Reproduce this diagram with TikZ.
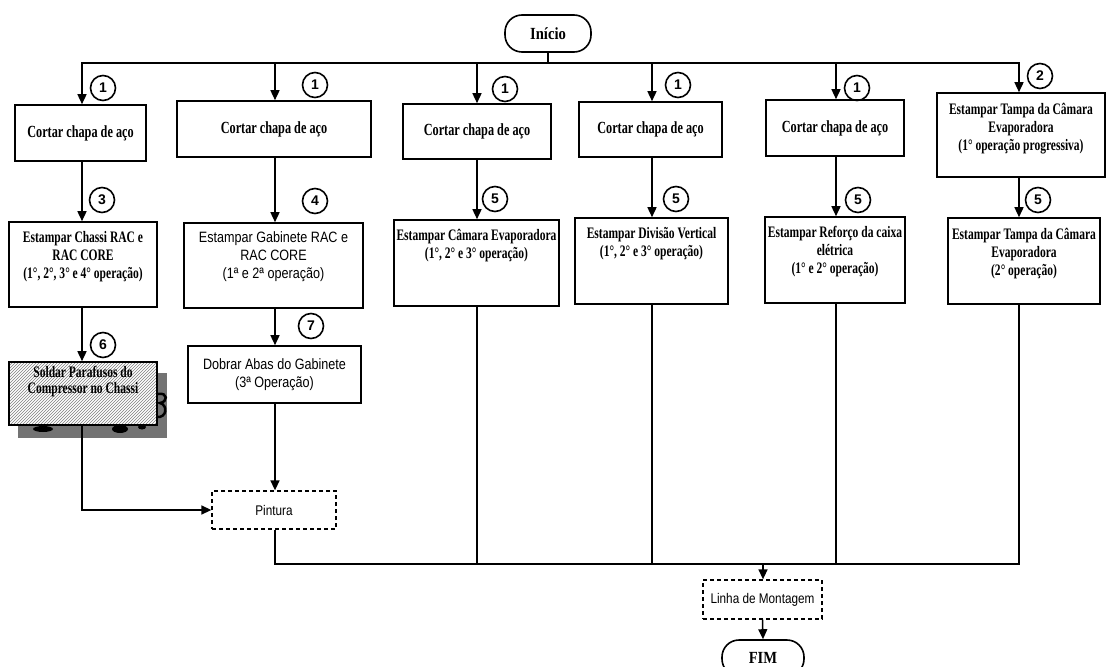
\documentclass[tikz,border=0pt]{standalone}
\usepackage{fontspec}
\setmainfont{Liberation Serif}
\newfontfamily\tmb[FakeStretch=0.72]{Liberation Serif}
\newfontfamily\tmw[FakeStretch=0.86]{Liberation Serif}
\newfontfamily\arn[FakeStretch=0.84]{Liberation Sans}
\newfontfamily\ars{Liberation Sans}
\usetikzlibrary{arrows.meta,patterns}
\definecolor{shadowgray}{RGB}{115,115,115}
\tikzset{
  box/.style={draw, line width=1.6pt, rectangle, inner sep=2pt, align=center},
  cut/.style={box, font=\tmb\bfseries\fontsize{17}{19}\selectfont},
  term/.style={draw, line width=1.6pt, rounded corners=17pt, inner sep=2pt,
    font=\tmw\bfseries\fontsize{17}{19}\selectfont},
  dbox/.style={draw, line width=1.3pt, dash pattern=on 4pt off 3pt, inner sep=2pt,
    font=\arn\fontsize{14}{16}\selectfont},
  num/.style={draw, circle, line width=1.6pt, minimum size=25pt, inner sep=0pt,
    font=\ars\bfseries\fontsize{14}{14}\selectfont},
  ttl/.style={align=center, anchor=north, inner sep=0pt,
    font=\tmb\bfseries\fontsize{16}{18}\selectfont},
  ttlsans/.style={ttl, font=\arn\fontsize{15}{18}\selectfont},
  conn/.style={line width=1.5pt},
  arr/.style={conn, -{Triangle[length=10pt,width=9pt]}},
}
\begin{document}
\begin{tikzpicture}[x=1pt,y=-1pt]
\useasboundingbox (0,0) rectangle (1107,666);
\clip (0,0) rectangle (1107,666);
\fill[white] (0,0) rectangle (1107,666);

% column axes
\coordinate (k1) at (82,0);
\coordinate (k2) at (275,0);
\coordinate (k3) at (477,0);
\coordinate (k4) at (652,0);
\coordinate (k5) at (836,0);
\coordinate (k6) at (1019,0);
\coordinate (bus) at (548,63);
\coordinate (bot) at (763,564);

% start
\node[term, minimum width=86pt, minimum height=37pt] (ini) at (548,33.5) {Início};

% first row: cutting
\node[cut, minimum width=131pt, minimum height=56pt] (c1a) at (80.5,133) {Cortar chapa de aço};
\node[cut, minimum width=194pt, minimum height=56pt] (c2a) at (274,129) {Cortar chapa de aço};
\node[cut, minimum width=148pt, minimum height=55pt] (c3a) at (477,131.5) {Cortar chapa de aço};
\node[cut, minimum width=143pt, minimum height=55pt] (c4a) at (650.5,129.5) {Cortar chapa de aço};
\node[cut, minimum width=138pt, minimum height=56pt] (c5a) at (835,128) {Cortar chapa de aço};
\node[box, minimum width=168pt, minimum height=84pt] (c6a) at (1021,135) {};
\node[ttl] (t6a) at ([yshift=-11pt]c6a.north) {Estampar Tampa da Câmara\\Evaporadora\\(1° operação progressiva)};

% second row: stamping
\node[box, minimum width=148pt, minimum height=85pt] (c1b) at (83,264.5) {};
\node[ttl] (t1b) at ([yshift=-10pt]c1b.north) {Estampar Chassi RAC e\\RAC CORE\\(1°, 2°, 3° e 4° operação)};
\node[box, minimum width=179pt, minimum height=85pt] (c2b) at (273.5,265.5) {};
\node[ttlsans] (t2b) at ([yshift=-9pt]c2b.north) {Estampar Gabinete RAC e\\RAC CORE\\(1ª e 2ª operação)};
\node[box, minimum width=165pt, minimum height=86pt] (c3b) at (476.5,263) {};
\node[ttl] (t3b) at ([yshift=-10pt]c3b.north) {Estampar Câmara Evaporadora\\(1°, 2° e 3° operação)};
\node[box, minimum width=153pt, minimum height=86pt] (c4b) at (651.5,261) {};
\node[ttl] (t4b) at ([yshift=-10pt]c4b.north) {Estampar Divisão Vertical\\(1°, 2° e 3° operação)};
\node[box, minimum width=140pt, minimum height=86pt] (c5b) at (835,260) {};
\node[ttl] (t5b) at ([yshift=-10pt]c5b.north) {Estampar Reforço da caixa\\elétrica\\(1° e 2° operação)};
\node[box, minimum width=152pt, minimum height=86pt] (c6b) at (1024,261) {};
\node[ttl] (t6b) at ([yshift=-11pt]c6b.north) {Estampar Tampa da Câmara\\Evaporadora\\(2° operação)};

% third row: welding (hatched, with smudged shadow) and bending
\fill[shadowgray] (18,373) rectangle (167,438);
\fill[black] (43,429) ellipse (10pt and 3pt);
\fill[black] (120,429) ellipse (8pt and 4pt);
\fill[black] (142,427) ellipse (4pt and 2.5pt);
\draw[black, line width=2.5pt] (158,394) .. controls (168,392) and (168,402) .. (160,403)
  .. controls (168,405) and (167,418) .. (157,417);
\node[box, minimum width=148pt, minimum height=63pt, preaction={fill=white},
  pattern=north east lines, pattern color=gray] (c1c) at (83,393.5) {};
\node[ttl, font=\tmb\bfseries\fontsize{16}{16}\selectfont] (t1c) at ([yshift=-5pt]c1c.north)
  {Soldar Parafusos do\\Compressor no Chassi};
\node[box, minimum width=173pt, minimum height=57pt, font=\arn\fontsize{15}{18}\selectfont]
  (c2c) at (274.5,374.5) {Dobrar Abas do Gabinete\\(3ª Operação)};

% painting, assembly, end
\node[dbox, minimum width=124pt, minimum height=38pt] (pin) at (274,510) {Pintura};
\node[dbox, minimum width=119pt, minimum height=39pt] (lin) at (762.5,599.5) {Linha de Montagem};
\node[term, minimum width=82pt, minimum height=36pt] (fim) at (763,658) {FIM};

% step numbers
\node[num] (n1) at (103,88) {1};
\node[num] (n2) at (315,85) {1};
\node[num] (n3) at (505,89) {1};
\node[num] (n4) at (678,85) {1};
\node[num] (n5) at (857,88) {1};
\node[num] (n6) at (1040,76) {2};
\node[num] (n7) at (102,200) {3};
\node[num] (n8) at (315,201) {4};
\node[num] (n9) at (495,199) {5};
\node[num] (n10) at (676,199) {5};
\node[num] (n11) at (858,200) {5};
\node[num] (n12) at (1038,200) {5};
\node[num] (n13) at (103,345) {6};
\node[num] (n14) at (311,326) {7};

% distribution from the start
\draw[conn] (ini.south) -- (bus);
\draw[arr] (bus) -| (c1a.north -| k1);
\draw[arr] (bus) -| (c6a.north -| k6);
\draw[arr] (bus -| k2) -- (c2a.north -| k2);
\draw[arr] (bus -| k3) -- (c3a.north -| k3);
\draw[arr] (bus -| k4) -- (c4a.north -| k4);
\draw[arr] (bus -| k5) -- (c5a.north -| k5);

% first row to second row
\draw[arr] (c1a.south -| k1) -- (c1b.north -| k1);
\draw[arr] (c2a.south -| k2) -- (c2b.north -| k2);
\draw[arr] (c3a.south -| k3) -- (c3b.north -| k3);
\draw[arr] (c4a.south -| k4) -- (c4b.north -| k4);
\draw[arr] (c5a.south -| k5) -- (c5b.north -| k5);
\draw[arr] (c6a.south -| k6) -- (c6b.north -| k6);

% second row onward
\draw[arr] (c1b.south -| k1) -- (c1c.north -| k1);
\draw[arr] (c2b.south -| k2) -- (c2c.north -| k2);
\draw[arr] (c1c.south -| k1) |- (pin.west);
\draw[arr] (c2c.south -| k2) -- (pin.north -| k2);

% collecting line to assembly
\draw[conn] (pin.south -| k2) -- (bot -| k2) -- (bot -| k6) -- (c6b.south -| k6);
\draw[conn] (c3b.south -| k3) -- (bot -| k3);
\draw[conn] (c4b.south -| k4) -- (bot -| k4);
\draw[conn] (c5b.south -| k5) -- (bot -| k5);
\draw[arr] (bot) -- (lin.north -| bot);
\draw[arr] (lin.south) -- (fim.north);
\end{tikzpicture}
\end{document}
